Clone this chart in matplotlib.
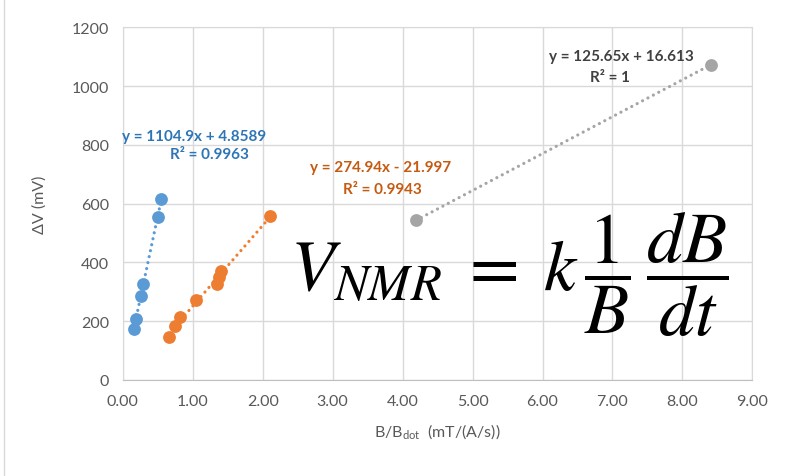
import matplotlib.pyplot as plt
import numpy as np

# data
blue_x = [0.16, 0.19, 0.26, 0.29, 0.50, 0.55]
blue_y = [174, 209, 287, 327, 553, 615]
orange_x = [0.66, 0.74, 0.82, 1.04, 1.35, 1.38, 1.40, 2.10]
orange_y = [146, 185, 213, 271, 326, 350, 371, 557]
gray_x = [4.19, 8.41]
gray_y = [543, 1073]

blue_lbl = ["y = 1104.9x + 4.8589", "R² = 0.9963"]
orange_lbl = ["y = 274.94x - 21.997", "R² = 0.9943"]
gray_lbl = ["y = 125.65x + 16.613", "R² = 1"]

xticks = np.arange(0, 10, 1)
yticks = np.arange(0, 1400, 200)

plt.rcParams['font.family'] = ['Lato', 'DejaVu Sans']
plt.rcParams['mathtext.fontset'] = 'custom'
plt.rcParams['mathtext.rm'] = 'Lato'

fig = plt.figure(figsize=(7.92, 4.77), dpi=100)
ax = fig.add_axes([0.155, 0.2013, 0.795, 0.7394])

grid_c = '#D9D9D9'
series = [
    (blue_x, blue_y, '#5B9BD5', '#2E75B6', blue_lbl, (1.02, 830), (1.24, 768)),
    (orange_x, orange_y, '#ED7D31', '#C55A11', orange_lbl, (3.68, 725), (3.71, 650)),
    (gray_x, gray_y, '#A5A5A5', '#404040', gray_lbl, (7.13, 1103), (6.97, 1032)),
]
for xs, ys, c, tc, lbl, p1, p2 in series:
    xs = np.array(xs)
    ys = np.array(ys)
    m, b = np.polyfit(xs, ys, 1)
    fx = np.array([xs.min(), xs.max()])
    ax.plot(fx, m * fx + b, color=c, linestyle=(0, (0.01, 1.9)), linewidth=2.3,
            dash_capstyle='round', zorder=2)
    ax.scatter(xs, ys, s=85, color=c, zorder=3, linewidths=0)
    ax.text(p1[0], p1[1], lbl[0], color=tc, fontsize=11, fontweight='bold',
            ha='center', va='center')
    ax.text(p2[0], p2[1], lbl[1], color=tc, fontsize=11, fontweight='bold',
            ha='center', va='center')

ax.set_xlim(0, 9)
ax.set_ylim(0, 1200)
ax.set_xticks(xticks)
ax.set_yticks(yticks)
ax.set_xticklabels(['%.2f' % v for v in xticks])
ax.grid(True, color=grid_c, linewidth=1)
ax.set_axisbelow(True)
for s in ax.spines.values():
    s.set_color(grid_c)
ax.spines['bottom'].set_color('#BFBFBF')
ax.tick_params(length=0, labelsize=11.5, colors='#595959', pad=10)
ax.set_xlabel(r'B/B$_{\rm dot}$  (mT/(A/s))', fontsize=11.5, color='#595959', labelpad=10)
ax.set_ylabel('ΔV (mV)', fontsize=11.5, color='#595959', labelpad=18)

# big formula
ax.text(5.53, 360, r'$V_{NMR}\;=\;k\,\dfrac{1}{B}\,\dfrac{dB}{dt}$', math_fontfamily='stix',
        fontsize=52, ha='center', va='center', color='black')

# chart frame edge on the left
fig.add_artist(plt.Line2D([0.005, 0.005], [0, 1], color=grid_c, linewidth=1))

fig.savefig('out.png', dpi=100)
